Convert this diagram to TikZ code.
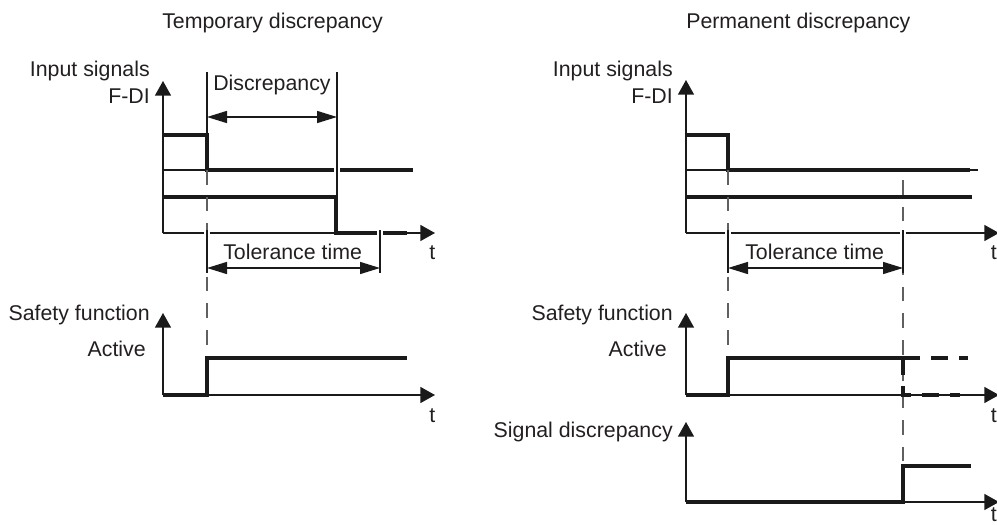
\documentclass[tikz,border=0pt]{standalone}
\usepackage{fontspec}
\setmainfont{Liberation Sans}
\usetikzlibrary{arrows.meta}
\definecolor{ink}{HTML}{1A1A1A}
\definecolor{txt}{HTML}{231F20}
\definecolor{guidecol}{HTML}{606060}
\begin{document}
\begin{tikzpicture}[x=0.75pt,y=-0.75pt,
 lbl/.style={font=\fontsize{16}{19}\selectfont, text=txt, inner sep=0pt},
 axis/.style={line width=1.1pt, draw=ink, -{Triangle[length=11pt,width=12pt]}},
 sig/.style={line width=2.5pt, draw=ink, line join=miter},
 marker/.style={line width=0.9pt, draw=ink},
 halo/.style={line width=4.5pt, draw=white},
 guide/.style={line width=0.8pt, draw=guidecol, dash pattern=on 11pt off 9pt},
 dim/.style={line width=1.1pt, draw=ink, {Triangle[length=15pt,width=9pt]}-{Triangle[length=15pt,width=9pt]}},
 sigdash/.style={sig, dash pattern=on 13pt off 8pt},
]
\useasboundingbox (0,0) rectangle (997,525);
\begin{scope}
\clip (0,0) rectangle (997,525);
% ---------- titles
\node[lbl, anchor=base west] (t1) at (162,28) {Temporary discrepancy};
\node[lbl, anchor=base west] (t2) at (686,28) {Permanent discrepancy};

% ================= LEFT PANEL =================
% input signals
\coordinate (L1o) at (163,233);
\draw[axis] (L1o) -- (163,81);
\draw[axis] (L1o) -- (435,233);
\node[lbl, anchor=base east] (L1a) at (150,76) {Input signals};
\node[lbl, anchor=base east] (L1b) at (150,103) {F-DI};
\node[lbl, anchor=base west] (L1t) at (429,259) {t};
\draw[marker] (163,170) -- (207,170);
\draw[sig] (163,135) -- (207,135) -- (207,170) -- (413,170);
\draw[sig] (163,197) -- (336,197) -- (336,233) -- (407,233);
% white gaps at crossings
\draw[halo] (337,164) -- (337,176);
\draw[halo] (207,228) -- (207,238);
\draw[halo] (380,227) -- (380,239);
\draw[guide] (207,170) -- (207,358);
\draw[marker] (207,72) -- (207,135);
\draw[marker] (337,72) -- (337,233);
\draw[marker] (207,230) -- (207,273);
\draw[marker] (380,230) -- (380,273);
\draw[dim] (207,117) -- (337,117);
\node[lbl, anchor=base west] (Ld) at (213,90) {Discrepancy};
\draw[dim] (207,268) -- (380,268);
\node[lbl, anchor=base west] (Ltol) at (223,259) {Tolerance time};
% safety function
\coordinate (L2o) at (163,395);
\draw[axis] (L2o) -- (163,313);
\draw[axis] (L2o) -- (435,395);
\node[lbl, anchor=base east] (L2a) at (150,320) {Safety function};
\node[lbl, anchor=base east] (L2b) at (146,356) {Active};
\node[lbl, anchor=base west] (L2t) at (429,422) {t};
\draw[sig] (163,395) -- (207,395) -- (207,358) -- (407,358);

% ================= RIGHT PANEL =================
\coordinate (R1o) at (686,233);
\draw[axis] (R1o) -- (686,80);
\draw[axis] (R1o) -- (999,233);
\node[lbl, anchor=base east] (R1a) at (673,76) {Input signals};
\node[lbl, anchor=base east] (R1b) at (673,103) {F-DI};
\node[lbl, anchor=base east] (R1t) at (997,259) {t};
\draw[marker] (686,170) -- (978,170);
\draw[sig] (686,135) -- (728,135) -- (728,170) -- (970,170);
\draw[sig] (686,197) -- (972,197);
\draw[halo] (728,228) -- (728,238);
\draw[halo] (903,228) -- (903,238);
\draw[guide] (728,170) -- (728,358);
\draw[guide] (903,180) -- (903,466);
\draw[marker] (728,230) -- (728,273);
\draw[marker] (903,230) -- (903,273);
\draw[dim] (728,268) -- (903,268);
\node[lbl, anchor=base west] (Rtol) at (745,259) {Tolerance time};
% safety function
\coordinate (R2o) at (686,395);
\draw[axis] (R2o) -- (686,313);
\draw[axis] (R2o) -- (999,395);
\node[lbl, anchor=base east] (R2a) at (673,320) {Safety function};
\node[lbl, anchor=base east] (R2b) at (667,356) {Active};
\node[lbl, anchor=base east] (R2t) at (997,422) {t};
\draw[sig] (686,395) -- (728,395) -- (728,358) -- (903,358);
\draw[sigdash] (903,358) -- (968,358);
\draw[sigdash] (903,358) -- (903,395) -- (960,395);
% signal discrepancy
\coordinate (R3o) at (686,502);
\draw[axis] (R3o) -- (686,422);
\draw[axis] (R3o) -- (999,502);
\node[lbl, anchor=base east] (R3a) at (673,437) {Signal discrepancy};
\node[lbl, anchor=base east] (R3t) at (997,521) {t};
\draw[sig] (686,502) -- (903,502) -- (903,466) -- (971,466);
\end{scope}
\end{tikzpicture}
\end{document}
